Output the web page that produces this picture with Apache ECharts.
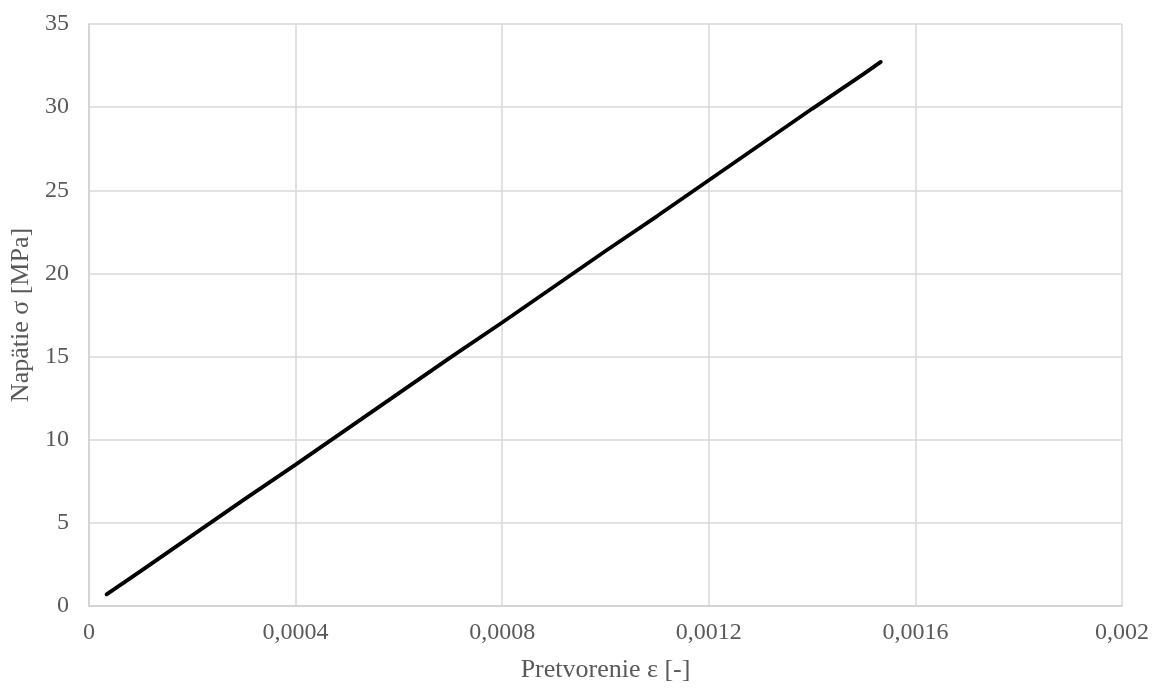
<!DOCTYPE html>
<html><head><meta charset="utf-8">
<script src="https://cdn.jsdelivr.net/npm/echarts@6/dist/echarts.min.js"></script>
<style>html,body{margin:0;padding:0;background:#fff}#c{width:1152px;height:688px}</style>
</head><body><div id="c"></div>
<script>
const strain = [0.000034,0.0001,0.0002,0.0003,0.0004,0.0005,0.0006,0.0007,0.0008,0.0009,0.001,0.0011,0.0012,0.0013,0.0014,0.0015,0.001533];
const stress = [0.70,2.10,4.25,6.40,8.50,10.65,12.80,14.95,17.05,19.20,21.35,23.45,25.60,27.75,29.90,32.00,32.72];
const xTitle = 'Pretvorenie ε [-]';
const yTitle = 'Napätie σ [MPa]';
const data = strain.map((x,i)=>[x,stress[i]]);
const font = '"Liberation Serif","Times New Roman",serif';
const chart = echarts.init(document.getElementById('c'));
chart.setOption({
  animation:false,
  grid:{left:89,right:30,top:24,bottom:77,containLabel:false},
  xAxis:{type:'value',min:0,max:0.002,interval:0.0004,
    name:xTitle,nameLocation:'middle',nameGap:51,
    nameTextStyle:{fontFamily:font,fontSize:26,color:'#595959'},
    axisLine:{show:true,lineStyle:{color:'#d0d0d0',width:1.5}},
    axisTick:{show:false},
    axisLabel:{fontFamily:font,fontSize:24,color:'#595959',margin:15,
      formatter:v=>Number(v.toFixed(4)).toString().replace('.',',')},
    splitLine:{show:true,lineStyle:{color:'#d9d9d9',width:1.5}}},
  yAxis:{type:'value',min:0,max:35,interval:5,
    name:yTitle,nameLocation:'middle',nameGap:52,nameRotate:90,
    nameTextStyle:{fontFamily:font,fontSize:26,color:'#595959'},
    axisLine:{show:true,lineStyle:{color:'#d0d0d0',width:1.5}},
    axisTick:{show:false},
    axisLabel:{fontFamily:font,fontSize:24,color:'#595959',margin:20},
    splitLine:{show:true,lineStyle:{color:'#d9d9d9',width:1.5}}},
  series:[{type:'line',data:data,showSymbol:false,symbol:'none',
    lineStyle:{color:'#000',width:3.8,cap:'round'}}]
});
</script></body></html>
